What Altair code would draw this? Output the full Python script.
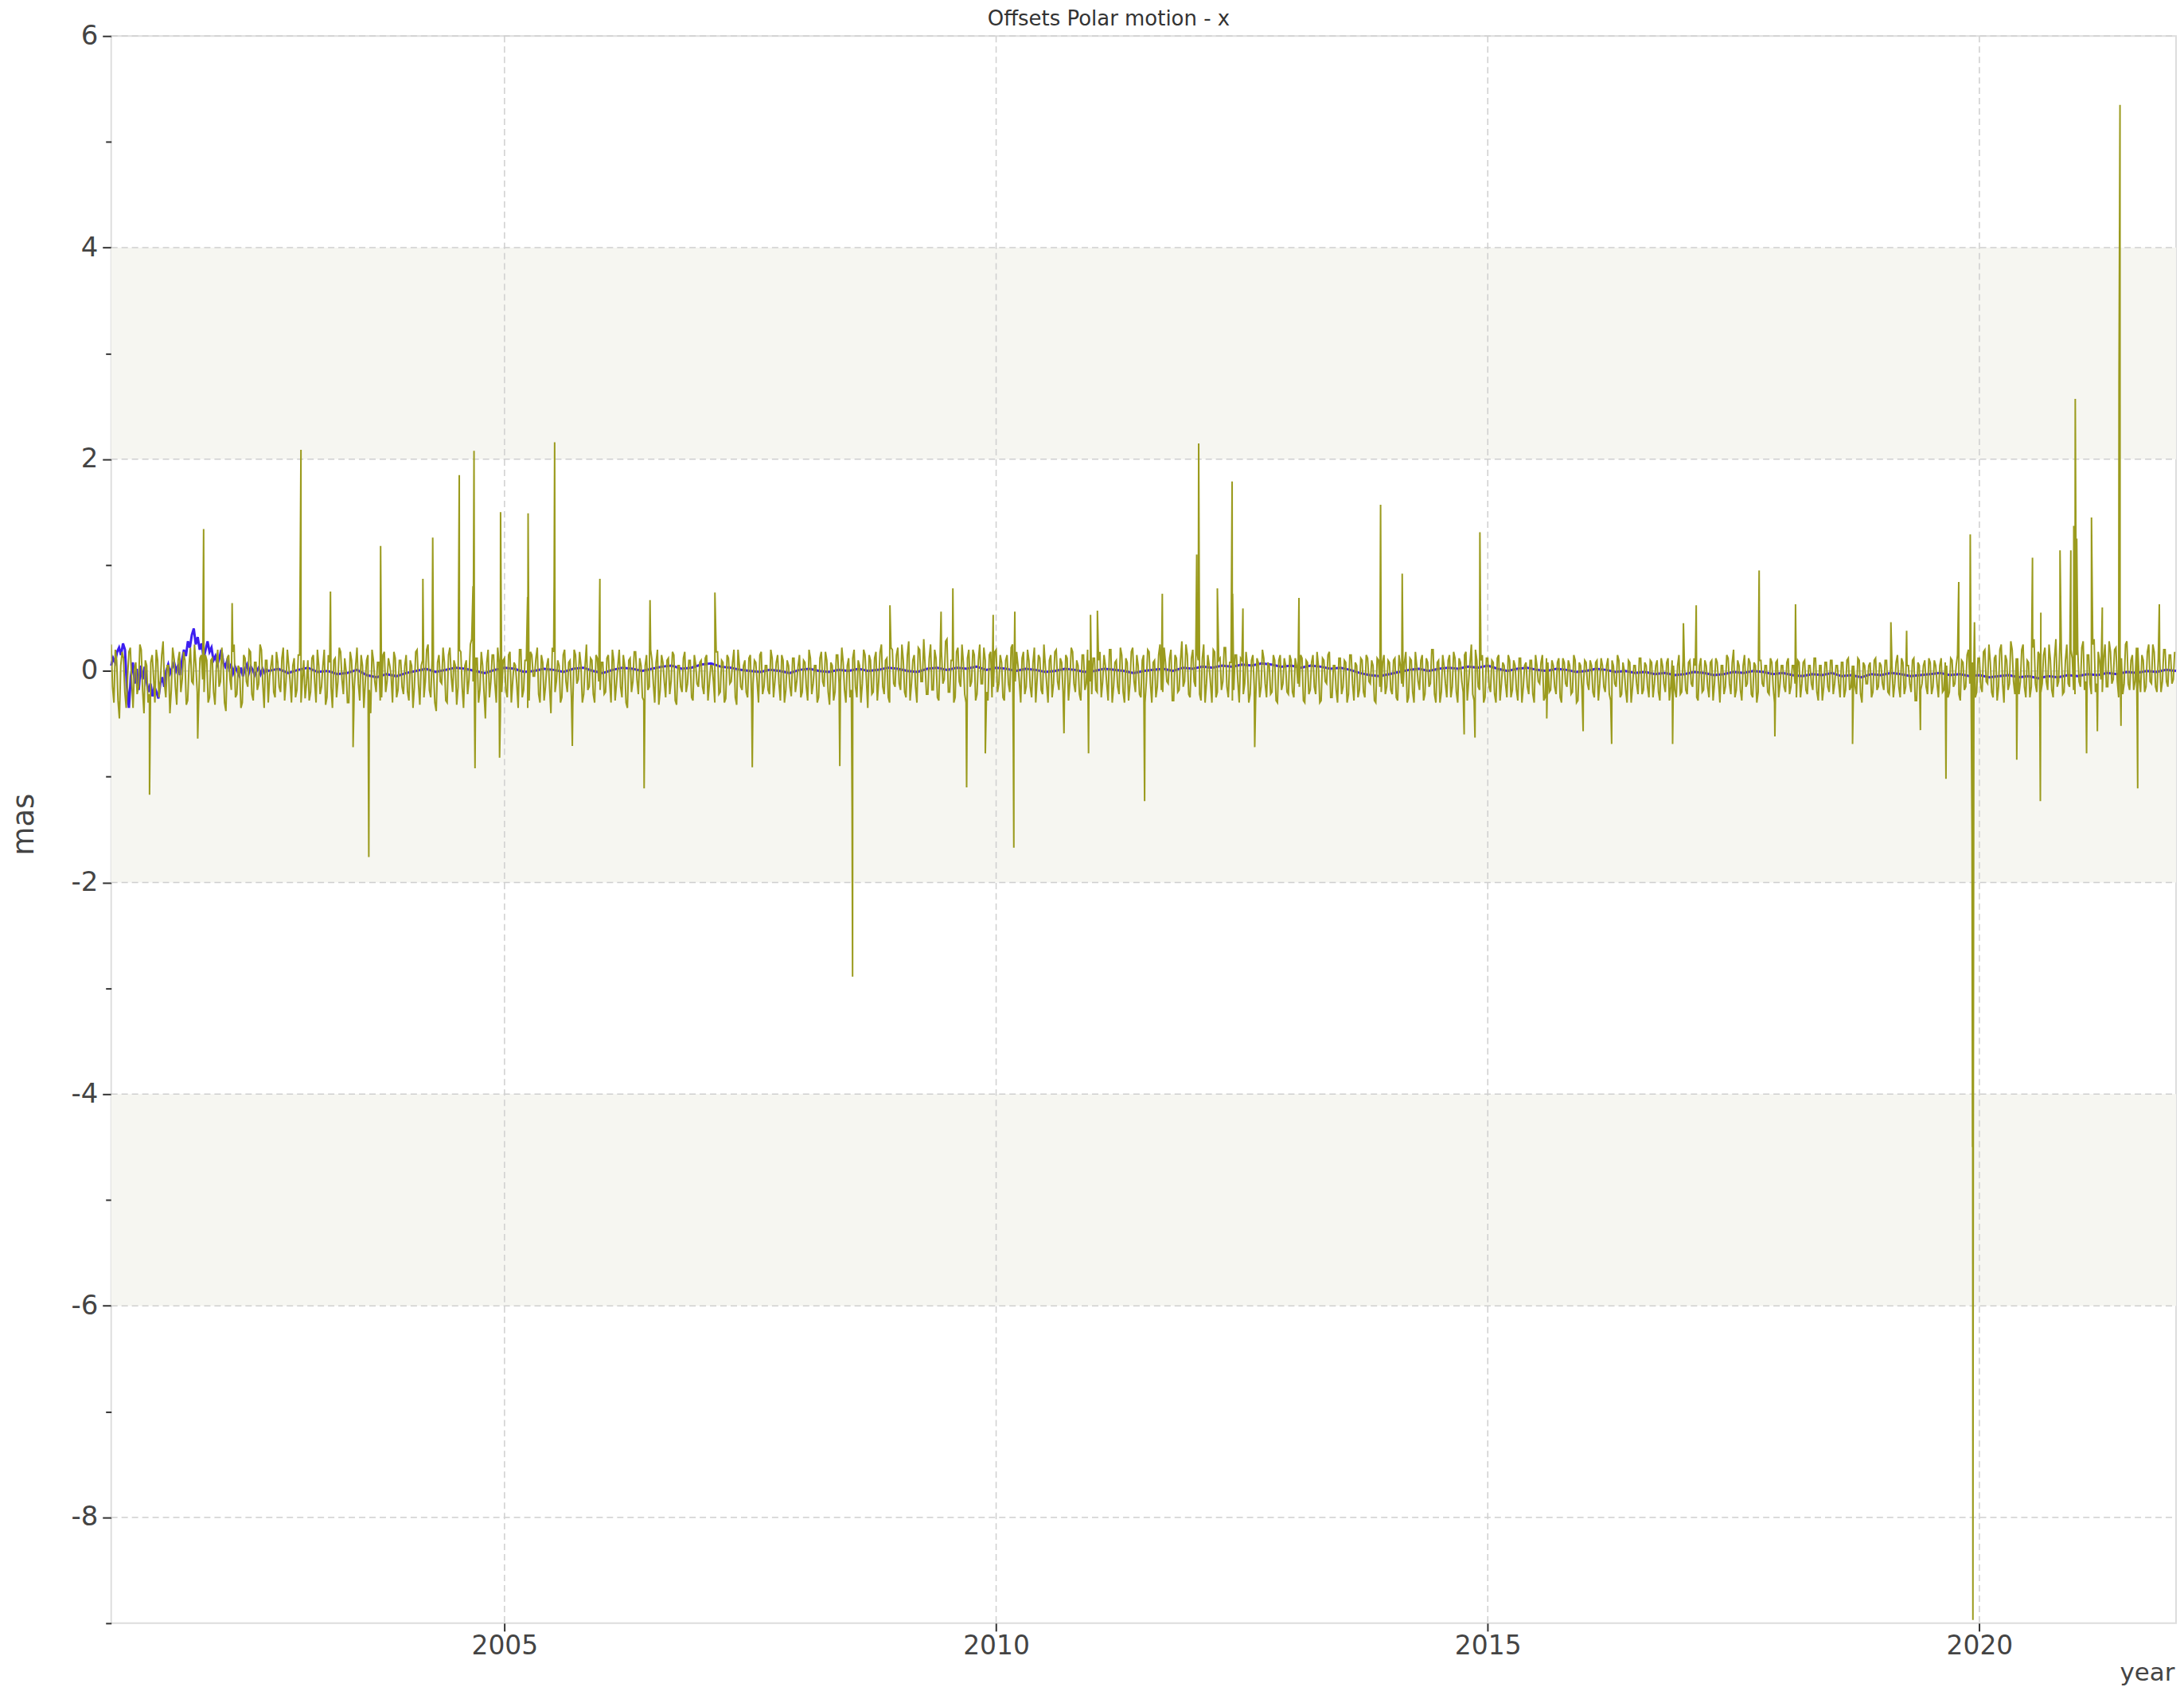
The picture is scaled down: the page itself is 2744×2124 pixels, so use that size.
import altair as alt
import pandas as pd

# ---------------- text ----------------
title_text = "Offsets Polar motion - x"
y_title = "mas"
x_title = "year"

# ---------------- axes ----------------
x_domain = [2001, 2022]
y_domain = [-9, 6]
x_tick_values = [2005, 2010, 2015, 2020]
y_tick_values = list(range(-9, 7))
y_grid_values = [6, 4, 2, 0, -2, -4, -6, -8]
band_top = [4, 0, -4]
band_bottom = [2, -2, -6]

# ---------------- green series (session offsets) ----------------
green_base = {
    2001: [0.25, -0.3, 0.1, -0.45, 0.18, -0.2, -0.05, 0.22, -0.35, 0.08, -0.15, 0.2, -0.4, 0.05, -0.22, 0.15, -0.3, 0.1, -0.1, 0.28, -0.25, 0.05, -0.18, 0.12, -0.32, 0.18, -0.08, 0.1, -0.28, 0.22, -0.12, 0.05, -0.3, 0.15, -0.2, 0.1],
    2002: [-0.25, 0.12, -0.32, 0.2, -0.1, 0.05, -0.38, 0.15, -0.18, 0.25, -0.22, 0.02, -0.3, 0.12, -0.15, 0.18, -0.28, 0.08, -0.12, 0.2, -0.35, 0.1, -0.05, 0.15, -0.25, 0.08, -0.2, 0.22, -0.1, 0.05, -0.3, 0.12, -0.18, 0.15, -0.08, -0.26],
    2003: [0.1, -0.2, 0.15, -0.3, 0.05, -0.15, 0.2, -0.25, 0.08, -0.35, 0.12, -0.1, 0.18, -0.22, 0.0, -0.3, 0.1, -0.15, 0.22, -0.28, 0.05, -0.12, 0.15, -0.4, 0.1, -0.2, 0.08, -0.25, 0.18, -0.1, 0.05, -0.3, 0.12, -0.18, 0.1, -0.22],
    2004: [0.15, -0.28, 0.05, -0.15, 0.2, -0.32, 0.1, -0.1, 0.25, -0.25, 0.0, -0.38, 0.15, -0.12, 0.08, -0.3, 0.22, -0.2, 0.05, -0.15, 0.18, -0.35, 0.1, -0.08, 0.3, -0.28, 0.12, -0.18, 0.05, -0.45, 0.2, -0.1, 0.15, -0.3, 0.08, -0.2],
    2005: [0.12, -0.25, 0.18, -0.1, 0.05, -0.35, 0.2, -0.18, 0.1, -0.28, 0.15, -0.05, 0.22, -0.3, 0.08, -0.15, 0.12, -0.4, 0.18, -0.1, 0.05, -0.25, 0.2, -0.2, 0.1, -0.32, 0.15, -0.08, 0.05, -0.22, 0.25, -0.15, 0.1, -0.3, 0.12, -0.18],
    2006: [0.08, -0.2, 0.15, -0.3, 0.1, -0.12, 0.2, -0.25, 0.05, -0.35, 0.12, -0.1, 0.18, -0.22, 0.05, -0.28, 0.15, -0.15, 0.1, -0.3, 0.2, -0.18, 0.08, -0.25, 0.12, -0.1, 0.15, -0.32, 0.05, -0.2, 0.18, -0.12, 0.1, -0.28, 0.06, -0.15],
    2007: [0.1, -0.22, 0.15, -0.12, 0.05, -0.3, 0.18, -0.2, 0.08, -0.26, 0.12, -0.1, 0.2, -0.32, 0.05, -0.18, 0.1, -0.25, 0.15, -0.12, 0.08, -0.3, 0.18, -0.15, 0.05, -0.22, 0.12, -0.1, 0.15, -0.28, 0.1, -0.18, 0.05, -0.24, 0.12, -0.1],
    2008: [0.15, -0.2, 0.08, -0.28, 0.12, -0.12, 0.05, -0.25, 0.18, -0.15, 0.1, -0.32, 0.05, -0.2, 0.15, -0.1, 0.08, -0.3, 0.12, -0.18, 0.2, -0.25, 0.05, -0.12, 0.15, -0.35, 0.1, -0.2, 0.18, -0.1, 0.25, -0.22, 0.12, -0.3, 0.2, -0.15],
    2009: [0.22, -0.18, 0.1, -0.25, 0.28, -0.12, 0.15, -0.3, 0.2, -0.1, 0.05, -0.22, 0.25, -0.18, 0.12, -0.28, 0.18, -0.08, 0.3, -0.2, 0.1, -0.25, 0.22, -0.15, 0.08, -0.3, 0.2, -0.1, 0.15, -0.22, 0.25, -0.12, 0.1, -0.28, 0.18, -0.15],
    2010: [0.2, -0.12, 0.08, -0.28, 0.15, -0.2, 0.25, -0.1, 0.05, -0.3, 0.18, -0.15, 0.1, -0.25, 0.22, -0.08, 0.12, -0.22, 0.05, -0.3, 0.15, -0.12, 0.2, -0.18, 0.08, -0.26, 0.12, -0.1, 0.18, -0.2, 0.05, -0.28, 0.15, -0.12, 0.1, -0.22],
    2011: [0.12, -0.2, 0.18, -0.1, 0.05, -0.28, 0.2, -0.15, 0.1, -0.22, 0.15, -0.3, 0.08, -0.12, 0.22, -0.2, 0.05, -0.25, 0.15, -0.1, 0.18, -0.3, 0.1, -0.15, 0.25, -0.2, 0.08, -0.12, 0.2, -0.28, 0.12, -0.18, 0.28, -0.1, 0.15, -0.25],
    2012: [0.2, -0.15, 0.1, -0.28, 0.25, -0.12, 0.05, -0.3, 0.18, -0.2, 0.12, -0.1, 0.22, -0.25, 0.08, -0.18, 0.15, -0.3, 0.1, -0.12, 0.05, -0.22, 0.15, -0.28, 0.08, -0.15, 0.12, -0.25, 0.05, -0.2, 0.1, -0.3, 0.15, -0.12, 0.05, -0.22],
    2013: [0.1, -0.25, 0.05, -0.15, 0.12, -0.3, 0.08, -0.18, 0.15, -0.22, 0.05, -0.28, 0.1, -0.12, 0.18, -0.25, 0.05, -0.3, 0.12, -0.15, 0.08, -0.22, 0.15, -0.28, 0.05, -0.18, 0.1, -0.25, 0.12, -0.12, 0.05, -0.3, 0.1, -0.2, 0.15, -0.15],
    2014: [0.08, -0.22, 0.12, -0.28, 0.05, -0.15, 0.18, -0.25, 0.1, -0.3, 0.05, -0.18, 0.15, -0.22, 0.08, -0.12, 0.2, -0.3, 0.1, -0.2, 0.05, -0.25, 0.15, -0.15, 0.12, -0.3, 0.08, -0.2, 0.18, -0.1, 0.25, -0.28, 0.1, -0.18, 0.15, -0.25],
    2015: [0.12, -0.2, 0.08, -0.3, 0.15, -0.12, 0.05, -0.25, 0.1, -0.18, 0.05, -0.28, 0.12, -0.15, 0.08, -0.22, 0.1, -0.3, 0.05, -0.12, 0.15, -0.25, 0.08, -0.18, 0.05, -0.22, 0.12, -0.3, 0.08, -0.15, 0.05, -0.2, 0.1, -0.28, 0.05, -0.15],
    2016: [0.08, -0.18, 0.05, -0.25, 0.1, -0.12, 0.05, -0.2, 0.12, -0.28, 0.05, -0.15, 0.1, -0.22, 0.0, -0.3, 0.08, -0.15, 0.05, -0.22, 0.12, -0.18, 0.05, -0.25, 0.08, -0.12, 0.1, -0.28, 0.05, -0.2, 0.12, -0.15, 0.05, -0.25, 0.15, -0.2],
    2017: [0.05, -0.22, 0.1, -0.15, 0.05, -0.28, 0.12, -0.18, 0.05, -0.25, 0.1, -0.12, 0.08, -0.3, 0.05, -0.15, 0.12, -0.22, 0.2, -0.18, 0.05, -0.28, 0.15, -0.12, 0.08, -0.25, 0.05, -0.2, 0.1, -0.15, 0.05, -0.22, 0.08, -0.3, 0.1, -0.12],
    2018: [0.05, -0.2, 0.12, -0.15, 0.05, -0.25, 0.08, -0.12, 0.1, -0.22, 0.05, -0.18, 0.12, -0.28, 0.05, -0.15, 0.08, -0.2, 0.1, -0.12, 0.05, -0.25, 0.08, -0.18, 0.12, -0.15, 0.05, -0.22, 0.1, -0.3, 0.05, -0.12, 0.08, -0.2, 0.12, -0.15],
    2019: [0.05, -0.18, 0.1, -0.22, 0.05, -0.12, 0.15, -0.25, 0.08, -0.15, 0.05, -0.2, 0.12, -0.28, 0.05, -0.12, 0.1, -0.22, 0.08, -0.15, 0.05, -0.25, 0.12, -0.18, 0.05, -0.2, 0.1, -0.12, 0.15, -0.28, 0.08, -0.15, 0.2, -0.25, 0.1, -0.2],
    2020: [0.12, -0.2, 0.2, -0.12, 0.08, -0.25, 0.15, -0.15, 0.25, -0.3, 0.1, -0.12, 0.2, -0.22, 0.12, -0.1, 0.25, -0.25, 0.08, -0.15, 0.3, -0.2, 0.15, -0.12, 0.22, -0.18, 0.1, -0.25, 0.3, -0.1, 0.18, -0.2, 0.25, -0.15, 0.12, -0.22],
    2021: [0.2, -0.15, 0.28, -0.1, 0.15, -0.22, 0.3, -0.12, 0.1, -0.2, 0.25, -0.15, 0.18, -0.08, 0.22, -0.25, 0.12, -0.12, 0.28, -0.18, 0.15, -0.1, 0.22, -0.2, 0.1, -0.15, 0.25, -0.12, 0.18, -0.2, 0.12, -0.1, 0.2, -0.15, 0.15, -0.08],
}

# second set of sessions, lying between the ones above
green_base_b = {
    2001: [-0.15, 0.2, -0.28, 0.05, 0.12, -0.35, 0.18, -0.1, 0.02, -0.22, 0.25, -0.18, 0.1, -0.3, 0.08, -0.05, 0.2, -0.25, 0.15, -0.12, 0.05, -0.4, 0.22, -0.15, 0.1, -0.2, 0.18, -0.32, 0.05, -0.1, 0.25, -0.2, 0.12, -0.08, 0.15, -0.3],
    2002: [0.1, -0.2, 0.05, -0.15, 0.22, -0.3, 0.12, -0.08, 0.18, -0.25, 0.05, -0.35, 0.15, -0.1, 0.2, -0.22, 0.08, -0.18, 0.25, -0.12, 0.1, -0.3, 0.05, -0.2, 0.18, -0.15, 0.12, -0.28, 0.2, -0.1, 0.05, -0.25, 0.15, -0.3, 0.1, -0.12],
    2003: [-0.28, 0.12, -0.1, 0.2, -0.22, 0.05, -0.32, 0.15, -0.15, 0.1, -0.25, 0.22, -0.08, 0.12, -0.3, 0.18, -0.2, 0.05, -0.12, 0.15, -0.35, 0.1, -0.18, 0.2, -0.1, 0.08, -0.28, 0.15, -0.2, 0.12, -0.05, 0.18, -0.25, 0.1, -0.15, 0.05],
    2004: [-0.2, 0.1, -0.35, 0.18, -0.12, 0.05, -0.25, 0.2, -0.18, 0.12, -0.3, 0.08, -0.1, 0.22, -0.28, 0.15, -0.05, 0.1, -0.32, 0.2, -0.15, 0.05, -0.22, 0.25, -0.1, 0.12, -0.3, 0.18, -0.2, 0.08, -0.25, 0.15, -0.12, 0.22, -0.38, 0.1],
    2005: [-0.18, 0.15, -0.3, 0.08, -0.12, 0.2, -0.25, 0.1, -0.35, 0.18, -0.05, 0.12, -0.22, 0.15, -0.28, 0.05, -0.15, 0.22, -0.2, 0.1, -0.3, 0.15, -0.1, 0.08, -0.25, 0.2, -0.12, 0.18, -0.3, 0.05, -0.18, 0.12, -0.22, 0.15, -0.1, 0.08],
    2006: [-0.22, 0.12, -0.1, 0.2, -0.28, 0.05, -0.15, 0.15, -0.3, 0.1, -0.2, 0.18, -0.08, 0.12, -0.25, 0.05, -0.18, 0.2, -0.12, 0.08, -0.32, 0.15, -0.1, 0.1, -0.22, 0.18, -0.28, 0.05, -0.15, 0.12, -0.2, 0.1, -0.25, 0.15, -0.12, 0.08],
    2007: [-0.15, 0.12, -0.28, 0.05, -0.1, 0.18, -0.22, 0.1, -0.3, 0.15, -0.12, 0.08, -0.25, 0.2, -0.15, 0.05, -0.2, 0.12, -0.28, 0.1, -0.1, 0.15, -0.22, 0.05, -0.18, 0.2, -0.25, 0.08, -0.12, 0.15, -0.3, 0.1, -0.15, 0.12, -0.2, 0.05],
    2008: [-0.25, 0.1, -0.15, 0.2, -0.22, 0.05, -0.3, 0.12, -0.1, 0.18, -0.2, 0.08, -0.28, 0.15, -0.12, 0.22, -0.18, 0.05, -0.25, 0.12, -0.15, 0.1, -0.3, 0.2, -0.08, 0.15, -0.22, 0.12, -0.28, 0.18, -0.15, 0.1, -0.25, 0.22, -0.12, 0.15],
    2009: [-0.12, 0.25, -0.2, 0.15, -0.28, 0.1, -0.15, 0.22, -0.1, 0.3, -0.22, 0.12, -0.18, 0.2, -0.25, 0.15, -0.12, 0.28, -0.2, 0.1, -0.3, 0.18, -0.1, 0.25, -0.22, 0.12, -0.15, 0.2, -0.28, 0.1, -0.12, 0.22, -0.2, 0.15, -0.25, 0.18],
    2010: [-0.2, 0.15, -0.25, 0.1, -0.12, 0.22, -0.28, 0.18, -0.1, 0.12, -0.22, 0.2, -0.15, 0.08, -0.3, 0.15, -0.18, 0.25, -0.12, 0.1, -0.25, 0.18, -0.1, 0.12, -0.2, 0.15, -0.28, 0.22, -0.12, 0.1, -0.22, 0.15, -0.18, 0.2, -0.1, 0.12],
    2011: [-0.18, 0.1, -0.25, 0.15, -0.12, 0.2, -0.3, 0.08, -0.15, 0.22, -0.2, 0.12, -0.28, 0.18, -0.1, 0.15, -0.22, 0.1, -0.3, 0.2, -0.12, 0.08, -0.25, 0.15, -0.18, 0.22, -0.1, 0.12, -0.28, 0.15, -0.2, 0.1, -0.15, 0.25, -0.22, 0.12],
    2012: [-0.1, 0.18, -0.22, 0.12, -0.3, 0.15, -0.12, 0.2, -0.25, 0.1, -0.18, 0.22, -0.15, 0.08, -0.28, 0.15, -0.1, 0.12, -0.22, 0.18, -0.3, 0.1, -0.15, 0.12, -0.25, 0.2, -0.12, 0.08, -0.22, 0.15, -0.28, 0.1, -0.18, 0.12, -0.2, 0.15],
    2013: [-0.2, 0.12, -0.12, 0.15, -0.28, 0.1, -0.22, 0.08, -0.15, 0.18, -0.3, 0.12, -0.1, 0.15, -0.25, 0.05, -0.18, 0.12, -0.22, 0.1, -0.3, 0.15, -0.12, 0.08, -0.25, 0.12, -0.2, 0.15, -0.1, 0.1, -0.28, 0.12, -0.15, 0.08, -0.22, 0.1],
    2014: [-0.18, 0.1, -0.25, 0.15, -0.12, 0.08, -0.3, 0.12, -0.2, 0.18, -0.1, 0.1, -0.28, 0.12, -0.15, 0.2, -0.22, 0.08, -0.3, 0.15, -0.12, 0.1, -0.25, 0.18, -0.2, 0.12, -0.1, 0.15, -0.28, 0.08, -0.22, 0.2, -0.15, 0.1, -0.3, 0.12],
    2015: [-0.15, 0.1, -0.22, 0.12, -0.28, 0.08, -0.12, 0.15, -0.25, 0.1, -0.18, 0.12, -0.3, 0.05, -0.15, 0.1, -0.22, 0.15, -0.1, 0.08, -0.28, 0.12, -0.2, 0.1, -0.15, 0.08, -0.25, 0.12, -0.12, 0.1, -0.22, 0.15, -0.3, 0.08, -0.18, 0.1],
    2016: [-0.12, 0.1, -0.2, 0.08, -0.28, 0.12, -0.15, 0.05, -0.22, 0.1, -0.12, 0.15, -0.25, 0.08, -0.18, 0.1, -0.3, 0.05, -0.12, 0.12, -0.22, 0.08, -0.15, 0.1, -0.25, 0.05, -0.2, 0.12, -0.12, 0.08, -0.28, 0.1, -0.18, 0.05, -0.22, 0.1],
    2017: [-0.18, 0.08, -0.12, 0.12, -0.25, 0.05, -0.2, 0.1, -0.15, 0.08, -0.28, 0.12, -0.1, 0.05, -0.22, 0.15, -0.12, 0.08, -0.25, 0.1, -0.18, 0.05, -0.15, 0.12, -0.22, 0.08, -0.3, 0.1, -0.12, 0.05, -0.2, 0.12, -0.15, 0.08, -0.25, 0.05],
    2018: [-0.15, 0.08, -0.22, 0.05, -0.12, 0.1, -0.25, 0.08, -0.18, 0.05, -0.12, 0.12, -0.2, 0.05, -0.28, 0.08, -0.15, 0.1, -0.22, 0.05, -0.12, 0.08, -0.25, 0.1, -0.18, 0.05, -0.15, 0.12, -0.22, 0.08, -0.12, 0.05, -0.25, 0.1, -0.18, 0.08],
    2019: [-0.12, 0.1, -0.2, 0.05, -0.25, 0.08, -0.15, 0.12, -0.22, 0.05, -0.12, 0.1, -0.28, 0.08, -0.18, 0.05, -0.15, 0.12, -0.22, 0.1, -0.12, 0.05, -0.2, 0.08, -0.25, 0.12, -0.15, 0.05, -0.22, 0.1, -0.18, 0.15, -0.12, 0.08, -0.25, 0.12],
    2020: [-0.15, 0.18, -0.1, 0.25, -0.2, 0.12, -0.28, 0.2, -0.12, 0.15, -0.18, 0.28, -0.1, 0.12, -0.22, 0.2, -0.15, 0.1, -0.25, 0.22, -0.12, 0.18, -0.2, 0.15, -0.1, 0.25, -0.18, 0.12, -0.15, 0.28, -0.22, 0.1, -0.12, 0.2, -0.18, 0.15],
    2021: [-0.1, 0.22, -0.18, 0.15, -0.12, 0.25, -0.2, 0.18, -0.08, 0.12, -0.15, 0.28, -0.12, 0.2, -0.1, 0.15, -0.22, 0.25, -0.12, 0.1, -0.18, 0.22, -0.08, 0.15, -0.2, 0.18, -0.1, 0.25, -0.15, 0.12, -0.2, 0.2, -0.1, 0.15, -0.12, 0.18],
}

green_spike_year = [
    2001.39, 2001.88, 2001.94, 2002.23, 2002.93, 2003.23, 2003.46, 2003.62, 2003.74,
    2004.17, 2004.27, 2004.54, 2004.68, 2004.69, 2004.70, 2004.95, 2004.96, 2005.235,
    2005.24, 2005.505, 2005.51, 2005.69, 2005.97, 2006.42, 2006.48, 2007.14, 2007.52,
    2008.41, 2008.535, 2008.54, 2008.92, 2009.44, 2009.56, 2009.70, 2009.89, 2009.97,
    2010.175, 2010.18, 2010.19, 2010.69, 2010.94, 2010.96, 2011.03, 2011.51, 2011.69,
    2012.04, 2012.06, 2012.25, 2012.40, 2012.405, 2012.51, 2012.63, 2013.08, 2013.91,
    2014.13, 2014.76, 2014.87, 2014.92, 2014.925, 2015.60, 2015.97, 2016.26, 2016.88,
    2016.99, 2017.12, 2017.76, 2017.92, 2018.13, 2018.71, 2019.10, 2019.26, 2019.40,
    2019.66, 2019.79, 2019.907, 2019.925, 2019.93, 2019.934, 2019.938, 2019.942, 2019.95,
    2020.38, 2020.54, 2020.62, 2020.625, 2020.82, 2020.93, 2020.96, 2020.975, 2020.99,
    2021.09, 2021.14, 2021.20, 2021.25, 2021.42, 2021.43, 2021.44, 2021.605, 2021.61,
    2021.83,
]
green_spike_value = [
    -1.17, -0.64, 1.34, 0.64, 2.09, 0.75, -0.72, -1.76, 1.18,
    0.87, 1.26, 1.85, 0.8, 2.08, -0.92, -0.82, 1.5, 0.7,
    1.49, 0.85, 2.16, -0.71, 0.87, -1.11, 0.67, 0.74, -0.91,
    -0.9, -1.29, -2.89, 0.62, 0.56, 0.78, -1.1, -0.78, 0.53,
    -0.74, -1.67, 0.56, -0.59, -0.78, 0.53, 0.57, -1.23, 0.73,
    1.1, 2.15, 0.78, 1.79, 0.73, 0.59, -0.72, 0.69, 1.57,
    0.92, -0.6, -0.63, 1.31, 0.66, -0.45, -0.57, -0.69, -0.69,
    0.45, 0.62, 0.95, -0.62, 0.63, -0.69, 0.46, 0.38, -0.56,
    -1.02, 0.84, 1.29, -1.55, -4.5, -8.97, -4.45, -1.5, 0.46,
    -0.84, 1.07, -1.23, 0.55, 1.14, 1.14, 1.37, 2.57, 1.25,
    -0.78, 1.45, -0.57, 0.6, 2.72, 5.35, -0.52, -0.51, -1.11,
    0.63,
]

# ---------------- blue series (smoothed) ----------------
blue_early_start = 2001.0
blue_early_step = 0.02
blue_early = [
    0.05, 0.12, 0.08, 0.18, 0.22, 0.15, 0.26, 0.2, -0.15, -0.35,
    -0.05, 0.08, -0.12, 0.02, -0.18, 0.05, -0.08, 0.04, -0.1, -0.2,
    -0.12, -0.24, -0.15, -0.2, -0.26, -0.12, -0.06, -0.15, 0.0, 0.06,
    -0.02, 0.03, 0.08, 0.0, 0.05, -0.04, 0.1, 0.2, 0.14, 0.28,
    0.22, 0.34, 0.4, 0.25, 0.32, 0.2, 0.26, 0.12, 0.2, 0.28,
    0.18, 0.22, 0.1, 0.14, 0.06, 0.12, 0.2, 0.08, 0.04, 0.1,
    0.02, 0.06, -0.02, 0.04, 0.0, -0.04, 0.03, -0.05, 0.02, 0.06,
    -0.02, 0.04, 0.01, -0.04, 0.0, 0.03, -0.03, 0.02, -0.02, 0.01,
]
blue_late_start = 2002.6
blue_late_step = 0.1
blue_late = [
    0.0, 0.02, -0.02, 0.01, 0.03, -0.01, 0.0, -0.03, -0.02, 0.01,
    -0.04, -0.06, -0.03, -0.05, -0.02, 0.0, 0.02, -0.01, 0.01, 0.03,
    0.02, 0.0, -0.02, 0.01, 0.03, 0.02, -0.01, 0.0, 0.02, 0.01,
    -0.01, 0.02, 0.03, 0.0, -0.02, 0.01, 0.03, 0.02, 0.0, 0.02,
    0.04, 0.05, 0.02, 0.03, 0.06, 0.07, 0.04, 0.03, 0.01, 0.0,
    -0.01, 0.01, 0.0, -0.02, 0.01, 0.02, 0.0, -0.01, 0.01, 0.0,
    0.02, 0.0, 0.01, 0.03, 0.02, 0.0, -0.01, 0.02, 0.03, 0.01,
    0.03, 0.02, 0.04, 0.01, 0.03, 0.02, 0.0, 0.02, 0.01, -0.01,
    0.0, 0.02, 0.01, -0.01, 0.0, 0.02, 0.01, 0.0, -0.02, 0.0,
    0.01, 0.02, 0.0, 0.03, 0.02, 0.04, 0.03, 0.05, 0.04, 0.06,
    0.05, 0.07, 0.06, 0.04, 0.05, 0.03, 0.05, 0.04, 0.02, 0.03,
    0.01, -0.02, -0.04, -0.05, -0.03, -0.01, 0.01, 0.02, 0.0, 0.02,
    0.03, 0.02, 0.04, 0.03, 0.05, 0.02, 0.0, 0.02, 0.03, 0.01,
    0.0, 0.02, 0.01, -0.01, 0.0, 0.02, 0.01, -0.01, 0.0, -0.02,
    -0.01, -0.03, -0.02, -0.04, -0.03, -0.01, -0.02, -0.04, -0.03, -0.01,
    -0.02, 0.0, -0.01, -0.03, -0.02, -0.04, -0.05, -0.03, -0.04, -0.02,
    -0.05, -0.04, -0.06, -0.03, -0.04, -0.02, -0.03, -0.05, -0.04, -0.03,
    -0.02, -0.04, -0.03, -0.05, -0.04, -0.06, -0.05, -0.04, -0.06, -0.05,
    -0.07, -0.05, -0.06, -0.04, -0.05, -0.03, -0.04, -0.02, -0.03, -0.01,
    -0.02, 0.0, -0.01, 0.01, 0.0,
]

# ---------------- tables ----------------
green_rows = []
for yr, vals in green_base.items():
    n = len(vals)
    for k, v in enumerate(vals):
        green_rows.append((yr + k / n, v))
for yr, vals in green_base_b.items():
    n = len(vals)
    for k, v in enumerate(vals):
        green_rows.append((yr + (k + 0.5) / n, v))
for x, v in zip(green_spike_year, green_spike_value):
    green_rows.append((x, v))
green_df = pd.DataFrame(green_rows, columns=["year", "mas"]).sort_values("year").reset_index(drop=True)

blue_rows = [(blue_early_start + i * blue_early_step, v) for i, v in enumerate(blue_early)]
blue_rows += [(blue_late_start + i * blue_late_step, v) for i, v in enumerate(blue_late)]
blue_df = pd.DataFrame(blue_rows, columns=["year", "mas"])

band_df = pd.DataFrame({"top": band_top, "bottom": band_bottom})
ygrid_df = pd.DataFrame({"v": y_grid_values})
xgrid_df = pd.DataFrame({"v": x_tick_values})

# ---------------- chart ----------------
W, H = 2600, 1998
FONT = "DejaVu Sans"
GREEN = "#9b9b1e"
BLUE = "#3c1ef0"
GRID = "#cfcfcf"

xs = alt.Scale(domain=x_domain, nice=False, zero=False)
ys = alt.Scale(domain=y_domain, nice=False, zero=False)

x_axis = alt.Axis(
    values=x_tick_values, format="d", grid=False, domain=False,
    tickSize=10, tickWidth=2, tickColor="#333333",
    labelFont=FONT, labelFontSize=33, labelColor="#444444", labelPadding=3,
    title=x_title, titleFont=FONT, titleFontSize=31, titleFontWeight="normal",
    titleColor="#444444", titleAnchor="end", titleAlign="right",
    titleBaseline="alphabetic", titleX=W - 2, titleY=72,
)
y_axis = alt.Axis(
    values=y_tick_values, grid=False, domain=False,
    labelExpr="datum.value % 2 != 0 ? '' : toString(datum.value)",
    tickSize={"condition": {"test": "datum.value % 2 != 0", "value": 7}, "value": 11},
    tickWidth=2, tickColor="#333333",
    labelFont=FONT, labelFontSize=34, labelColor="#444444", labelPadding=6,
    title=y_title, titleFont=FONT, titleFontSize=37, titleFontWeight="normal",
    titleColor="#444444", titleAngle=-90, titleAlign="center", titleBaseline="middle",
    titleX=-109, titleY=992,
)

bands = alt.Chart(band_df).mark_rect(color="#f6f6f1").encode(
    x=alt.value(0), x2=alt.value(W),
    y=alt.Y("top:Q", scale=ys, axis=y_axis), y2="bottom:Q",
)
ygrid = alt.Chart(ygrid_df).mark_rule(color=GRID, strokeWidth=1.5, strokeDash=[8, 5]).encode(
    y=alt.Y("v:Q", scale=ys, axis=y_axis), x=alt.value(0), x2=alt.value(W),
)
xgrid = alt.Chart(xgrid_df).mark_rule(color=GRID, strokeWidth=1.5, strokeDash=[8, 5]).encode(
    x=alt.X("v:Q", scale=xs, axis=x_axis), y=alt.value(0), y2=alt.value(H),
)
blue = alt.Chart(blue_df).mark_line(color=BLUE, strokeWidth=3).encode(
    x=alt.X("year:Q", scale=xs, axis=x_axis),
    y=alt.Y("mas:Q", scale=ys, axis=y_axis),
)
green = alt.Chart(green_df).mark_line(color=GREEN, strokeWidth=2, clip=True).encode(
    x=alt.X("year:Q", scale=xs, axis=x_axis),
    y=alt.Y("mas:Q", scale=ys, axis=y_axis),
)

chart = alt.layer(bands, xgrid, ygrid, blue, green).properties(
    width=W, height=H,
    title=alt.TitleParams(
        text=title_text, font=FONT, fontSize=26, fontWeight="normal", color="#333333",
        anchor="middle", frame="group", baseline="alphabetic", offset=12, dx=-44, dy=42,
    ),
    autosize=alt.AutoSizeParams(type="none"),
    padding={"left": 132, "top": 35, "right": 2, "bottom": 80},
).configure_view(stroke="#dddddd", strokeWidth=2)

chart.save("out.html", embed_options={"renderer": "svg", "actions": False})
